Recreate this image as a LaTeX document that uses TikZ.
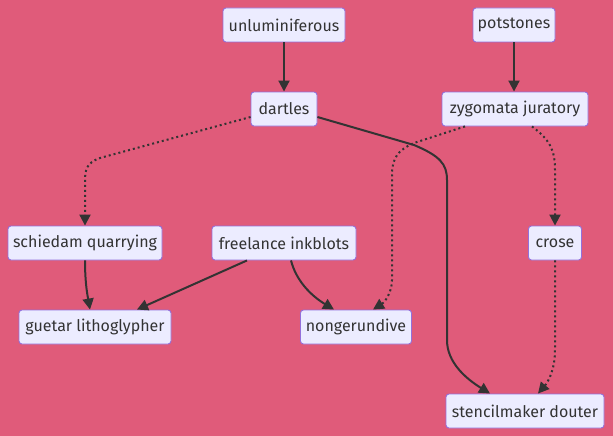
\documentclass[tikz,border=0pt]{standalone}
\usepackage{fontspec}
\setmainfont{Fira Sans}
\usetikzlibrary{arrows.meta,calc}
\definecolor{bg}{RGB}{224,91,122}
\definecolor{nodefill}{RGB}{236,236,255}
\definecolor{nodeborder}{RGB}{147,112,219}
\definecolor{ink}{RGB}{51,51,51}
\tikzset{
  box/.style={draw=nodeborder, fill=nodefill, line width=0.9pt, rounded corners=3pt,
    minimum height=34pt, inner sep=0pt, text=ink, font=\fontsize{16}{19}\selectfont},
  solidline/.style={draw=ink, line width=2pt, -{Triangle[length=11pt,width=11pt]}},
  dotline/.style={draw=ink, line width=2pt, dash pattern=on 2pt off 3pt, -{Triangle[length=11pt,width=11pt]}},
}
\begin{document}
\begin{tikzpicture}[x=1pt,y=-1pt]
\fill[bg] (0,0) rectangle (613,436);
\useasboundingbox (0,0) rectangle (613,436);
\node[box, minimum width=122pt] (u) at (284,25) {unluminiferous};
\node[box, minimum width=82pt] (p) at (514,25) {potstones};
\node[box, minimum width=66pt] (d) at (284,109) {dartles};
\node[box, minimum width=146pt] (z) at (515,109) {zygomata juratory};
\node[box, minimum width=154pt] (sq) at (85,243) {schiedam quarrying};
\node[box, minimum width=144pt] (fi) at (284,243) {freelance inkblots};
\node[box, minimum width=53pt] (c) at (555,243) {crose};
\node[box, minimum width=152pt] (g) at (95,327) {guetar lithoglypher};
\node[box, minimum width=111pt] (n) at (356,327) {nongerundive};
\node[box, minimum width=158pt] (s) at (525,411) {stencilmaker douter};

\draw[solidline] (u) -- (d);
\draw[solidline] (p) -- (z.north -| p);
\draw[dotline] ([yshift=-8pt]d.west) -- (100,158) .. controls (86,163) and (85,170) .. (85,182) -- (sq.north);
\draw[solidline] ([yshift=-8pt]d.east) -- (414,145) .. controls (440,156) and (447,164) .. (447,180) -- (447,340) .. controls (447,362) and (465,378) .. ([xshift=-35pt]s.north);
\draw[dotline] ([xshift=-50pt]z.south) -- (414,143) .. controls (398,150) and (392,158) .. (392,175) -- (392,280) .. controls (392,292) and (385,302) .. ([xshift=17pt]n.north);
\draw[dotline] ([xshift=17pt]z.south) .. controls (550,140) and (555,150) .. (555,170) -- (c.north);
\draw[dotline] (c.south) -- (555,350) .. controls (555,370) and (548,382) .. ([xshift=13pt]s.north);
\draw[solidline] (sq.south) .. controls (85,285) and (88,298) .. ([xshift=-5pt]g.north);
\draw[solidline] ([xshift=-37pt]fi.south) -- ([xshift=42pt]g.north);
\draw[solidline] ([xshift=7pt]fi.south) .. controls (296,280) and (310,295) .. ([xshift=-22pt]n.north);
\end{tikzpicture}
\end{document}
